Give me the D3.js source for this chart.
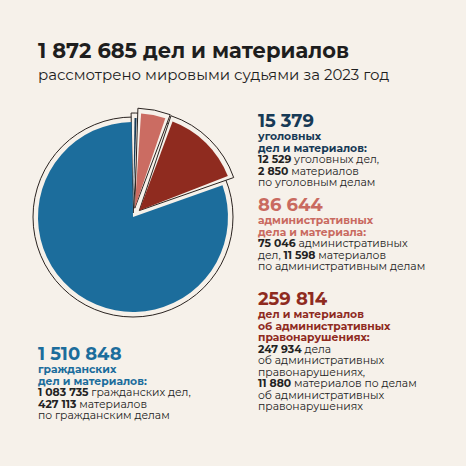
<!DOCTYPE html>
<html><head><meta charset="utf-8">
<script src="https://cdn.jsdelivr.net/npm/d3@7"></script>
<style>body{margin:0;background:#f6f1ea}</style>
</head><body>
<svg id="c" width="466" height="466"></svg>
<script>
// данные
const categories = ["уголовные", "административные", "об адм. правонарушениях", "гражданские"];
const values = [15379, 86644, 259814, 1510848];
const colors = ["#173a56", "#cb6c62", "#8f2b1f", "#1c6d9c"];
const exploded = [4, 9, 9, 0];

const svg = d3.select("#c");
svg.append("rect").attr("width", 466).attr("height", 466).attr("fill", "#f6f1ea");

const cx = 133, cy = 217, r = 95;
const pie = d3.pie().sort(null)(values);
const g = svg.append("g").attr("transform", `translate(${cx},${cy})`);

// внешний контур
g.append("circle").attr("r", r + 5).attr("fill", "#f6f1ea").attr("stroke", "#2a2320").attr("stroke-width", 1);

const inner = d3.arc().innerRadius(0).outerRadius(r);

pie.forEach((d, i) => {
    if (!exploded[i]) return;
    const a = (d.startAngle + d.endAngle) / 2;
    const sg = g.append("g").attr("transform", `translate(${Math.sin(a) * exploded[i]},${-Math.cos(a) * exploded[i]})`);
    sg.append("path").attr("d", d3.arc().innerRadius(0).outerRadius(r + 5)({...d, startAngle: d.startAngle - 0.02, endAngle: d.endAngle + 0.02}))
        .attr("fill", "#f6f1ea").attr("stroke", "#2a2320").attr("stroke-width", 1);
});
pie.forEach((d, i) => {
    const a = (d.startAngle + d.endAngle) / 2;
    const e = exploded[i];
    g.append("path").attr("transform", `translate(${Math.sin(a) * e},${-Math.cos(a) * e})`)
        .attr("d", inner({...d, startAngle: d.startAngle + 0.015, endAngle: d.endAngle - 0.015}))
        .attr("fill", colors[i]);
});

const font = "Montserrat, 'Open Sans', sans-serif";
function block(x, y, lines) {
    const t = svg.append("text").attr("x", x).attr("y", y).style("font-family", font);
    lines.forEach((ln, k) => {
        const tl = t.append("tspan").attr("x", x).attr("dy", k === 0 ? 0 : ln.dy || 11.5);
        ln.parts.forEach(p => tl.append("tspan").text(p[0])
            .style("font-weight", p[1] ? 700 : 400)
            .style("font-size", (p[3] || 10.8) + "px")
            .attr("fill", p[2] || "#222"));
    });
}

svg.append("text").attr("x", 38).attr("y", 58).style("font-family", font).style("font-weight", 700)
    .style("font-size", "21px").attr("fill", "#1e1e1e").text("1 872 685 дел и материалов");
svg.append("text").attr("x", 38).attr("y", 80).style("font-family", font)
    .style("font-size", "15px").attr("fill", "#1e1e1e").text("рассмотрено мировыми судьями за 2023 год");

const nv = "#173a56", pk = "#c96a60", rd = "#8f2b1f", bl = "#1c6d9c";
block(258, 127, [
    {parts: [["15 379", 1, nv, 18]]},
    {dy: 13, parts: [["уголовных", 1, nv]]},
    {parts: [["дел и материалов:", 1, nv]]},
    {parts: [["12 529", 1], [" уголовных дел,"]]},
    {parts: [["2 850", 1], [" материалов"]]},
    {parts: [["по уголовным делам"]]}
]);
block(258, 211, [
    {parts: [["86 644", 1, pk, 18]]},
    {dy: 13, parts: [["административных", 1, pk]]},
    {parts: [["дела и материала:", 1, pk]]},
    {parts: [["75 046", 1], [" административных"]]},
    {parts: [["дел, "], ["11 598", 1], [" материалов"]]},
    {parts: [["по административным делам"]]}
]);
block(258, 305, [
    {parts: [["259 814", 1, rd, 18]]},
    {dy: 13, parts: [["дел и материалов", 1, rd]]},
    {parts: [["об административных", 1, rd]]},
    {parts: [["правонарушениях:", 1, rd]]},
    {parts: [["247 934", 1], [" дела"]]},
    {parts: [["об административных"]]},
    {parts: [["правонарушениях,"]]},
    {parts: [["11 880", 1], [" материалов по делам"]]},
    {parts: [["об административных"]]},
    {parts: [["правонарушениях"]]}
]);
block(38, 360, [
    {parts: [["1 510 848", 1, bl, 18]]},
    {dy: 13, parts: [["гражданских", 1, bl]]},
    {parts: [["дел и материалов:", 1, bl]]},
    {parts: [["1 083 735", 1], [" гражданских дел,"]]},
    {parts: [["427 113", 1], [" материалов"]]},
    {parts: [["по гражданским делам"]]}
]);
</script>
</body></html>
